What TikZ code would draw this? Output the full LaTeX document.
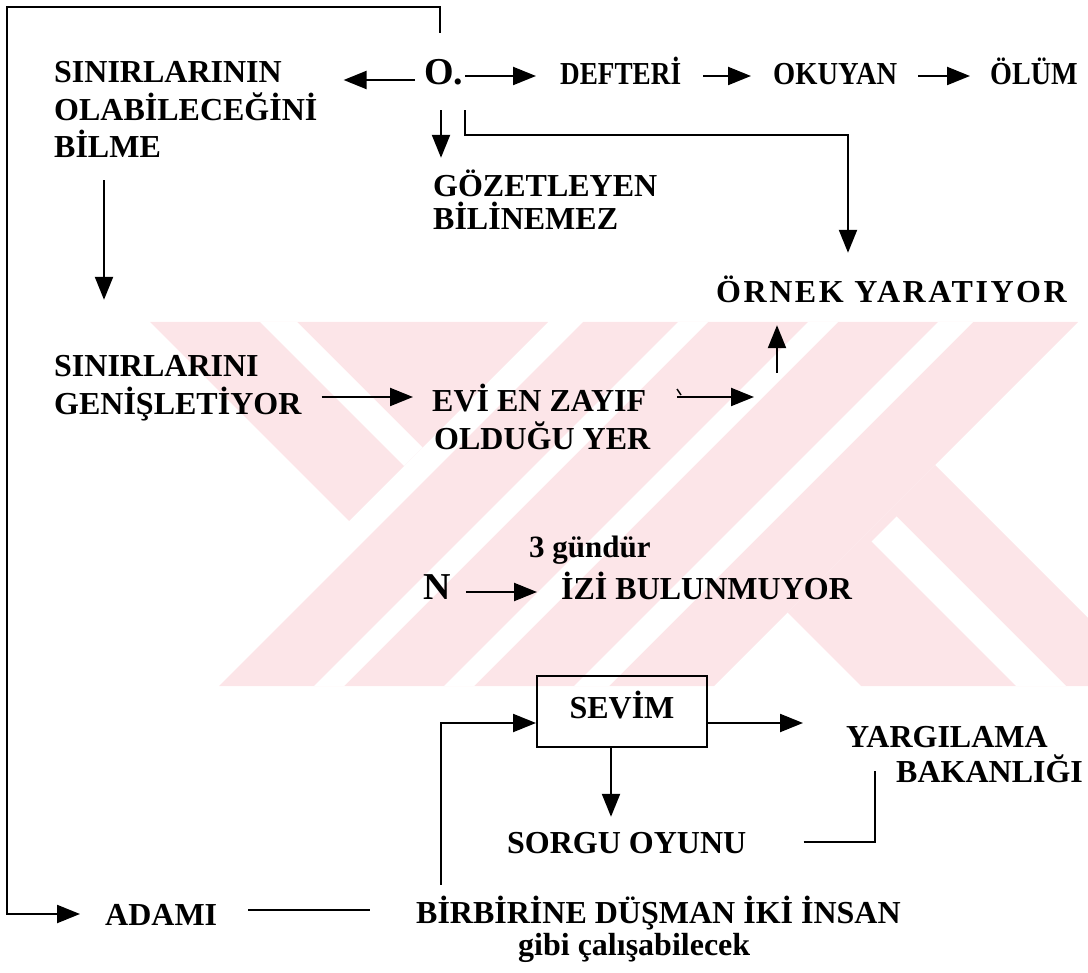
\documentclass[tikz,border=0pt]{standalone}
\usepackage{fontspec}
\setmainfont{Liberation Serif}
\newfontfamily\spacedfont[LetterSpace=8]{Liberation Serif}
\usepackage{graphicx}
\usetikzlibrary{arrows.meta}

\definecolor{wmpink}{RGB}{252,229,232}

\tikzset{
  lbl/.style={inner sep=0pt, anchor=base west, text height=22pt, text depth=0pt,
    font=\bfseries\fontsize{32}{38}\selectfont},
  box/.style={draw, line width=2pt, minimum width=170pt, minimum height=71pt,
    inner sep=0pt, text height=22pt, text depth=8pt,
    font=\bfseries\fontsize{32}{38}\selectfont},
  arr/.style={line width=2.2pt, -{Triangle[length=23pt,width=18pt]}},
  ln/.style={line width=2.2pt},
}

\begin{document}
\begin{tikzpicture}[x=1pt,y=-1pt]
    \useasboundingbox (0,0) rectangle (1088,973);

    % faint logo in the background
    \begin{scope}
        \clip (0,322) rectangle (1088,686);
        \fill[wmpink] (150,322) -- (548,322) -- (349,521) -- cycle;
        \fill[white] (260,322) -- (297,322) -- (422.5,447.5) -- (404,466) -- cycle;
        \fill[wmpink] (583,322) -- (1078,322) -- (714,686) -- (219,686) -- cycle;
        \foreach \a/\b in {1000/1030, 1130/1160, 1260/1295}
            \fill[white] (\a-322,322) -- (\b-322,322) -- (\b-686,686) -- (\a-686,686) -- cycle;
        \fill[wmpink] (935,465) -- (787.5,612.5) -- (861,686) -- (1156,686) -- cycle;
        \fill[white] (896.5,516.5) -- (871.5,541.5) -- (1016,686) -- (1066,686) -- cycle;
    \end{scope}

    % top row
    \node[lbl] (sinirA) at (54,83) {SINIRLARININ};
    \node[lbl] (sinirB) at (54,121) {OLABİLECEĞİNİ};
    \node[lbl] (sinirC) at (54,158) {BİLME};
    \node[lbl, font=\bfseries\fontsize{38}{44}\selectfont] (o) at (424,85) {O.};
    \node[lbl] (defteri) at (560,85) {\scalebox{0.85}[1]{DEFTERİ}};
    \node[lbl] (okuyan) at (773,85) {\scalebox{0.89}[1]{OKUYAN}};
    \node[lbl] (olum) at (990,85) {\scalebox{0.88}[1]{ÖLÜM}};
    \node[lbl] (gozA) at (433,197) {GÖZETLEYEN};
    \node[lbl] (gozB) at (433,230) {BİLİNEMEZ};
    \node[lbl, font=\spacedfont\bfseries\fontsize{32}{38}\selectfont] (ornek) at (716,303) {ÖRNEK YARATIYOR};

    % middle
    \node[lbl] (genA) at (54,377) {SINIRLARINI};
    \node[lbl] (genB) at (54,415) {GENİŞLETİYOR};
    \node[lbl] (eviA) at (432,412) {EVİ EN ZAYIF};
    \node[lbl] (eviB) at (434,450) {OLDUĞU YER};
    \node[lbl, font=\bfseries\fontsize{31}{36}\selectfont] (gun) at (529,558) {3 gündür};
    \node[lbl, font=\bfseries\fontsize{38}{44}\selectfont] (n) at (423,600) {N};
    \node[lbl] (izi) at (561,600) {İZİ BULUNMUYOR};

    % bottom
    \node[box] (sevim) at (622,711) {SEVİM};
    \node[lbl] (yarA) at (846,747) {YARGILAMA};
    \node[lbl] (yarB) at (896,782) {BAKANLIĞI};
    \node[lbl] (sorgu) at (507,853) {SORGU OYUNU};
    \node[lbl] (adami) at (105,925) {ADAMI};
    \node[lbl] (birA) at (416,923) {BİRBİRİNE DÜŞMAN İKİ İNSAN};
    \node[lbl] (birB) at (518,955) {gibi çalışabilecek};

    \coordinate (frame) at (7,7);
    \coordinate (eviout) at (754,397);
    \coordinate (ornekin) at (777,373);

    % arrows out of O.
    \draw[arr, shorten <=30pt, shorten >=25pt] (o.north -| 440,0) |- (frame) |- (adami.west);
    \draw[arr, shorten <=9pt, shorten >=26pt] (o.west |- 0,80) -- (sinirB.east |- 0,80);
    \draw[arr, shorten <=2pt, shorten >=24pt] (o.east |- 0,76) -- (defteri.west |- 0,76);
    \draw[arr, shorten <=22pt, shorten >=22pt] (defteri.east |- 0,76) -- (okuyan.west |- 0,76);
    \draw[arr, shorten <=21pt, shorten >=20pt] (okuyan.east |- 0,76) -- (olum.west |- 0,76);
    \draw[arr, shorten <=25pt, shorten >=17pt] (o.south -| 441,0) -- (gozA.north -| 441,0);
    \draw[arr, shorten <=25pt, shorten >=28pt] (o.south -| 465,0) -- (465,135) -| (ornek.north -| 848,0);

    % left column and middle
    \draw[arr, shorten <=22pt, shorten >=55pt] (sinirC.south -| 104,0) -- (genA.north -| 104,0);
    \draw[arr, shorten <=20pt, shorten >=19pt] (genB.east |- eviout) -- (eviA.west |- eviout);
    \draw[arr, shorten <=31pt] (eviA.east |- eviout) -- (eviout);
    \draw[line width=1.4pt] (677,389) -- (681,395);
    \draw[arr, shorten >=22pt] (ornekin) -- (ornek.south -| ornekin);
    \draw[arr, shorten <=15pt, shorten >=24pt] (n.east |- 0,592) -- (izi.west |- 0,592);

    % around the box
    \draw[arr, shorten <=16pt] (birA.north -| 441,0) |- (sevim.west |- 0,723);
    \draw[arr, shorten >=43pt] (sevim.east |- 0,723) -- (yarA.west |- 0,723);
    \draw[arr, shorten >=14pt] (sevim.south -| 611,0) -- (sorgu.north -| 611,0);
    \draw[ln, shorten <=57pt] (sorgu.east |- 0,842) -| ([xshift=-21pt]yarB.west);
    \draw[ln, shorten <=31pt, shorten >=46pt] (adami.east |- 0,910) -- (birA.west |- 0,910);
\end{tikzpicture}
\end{document}
